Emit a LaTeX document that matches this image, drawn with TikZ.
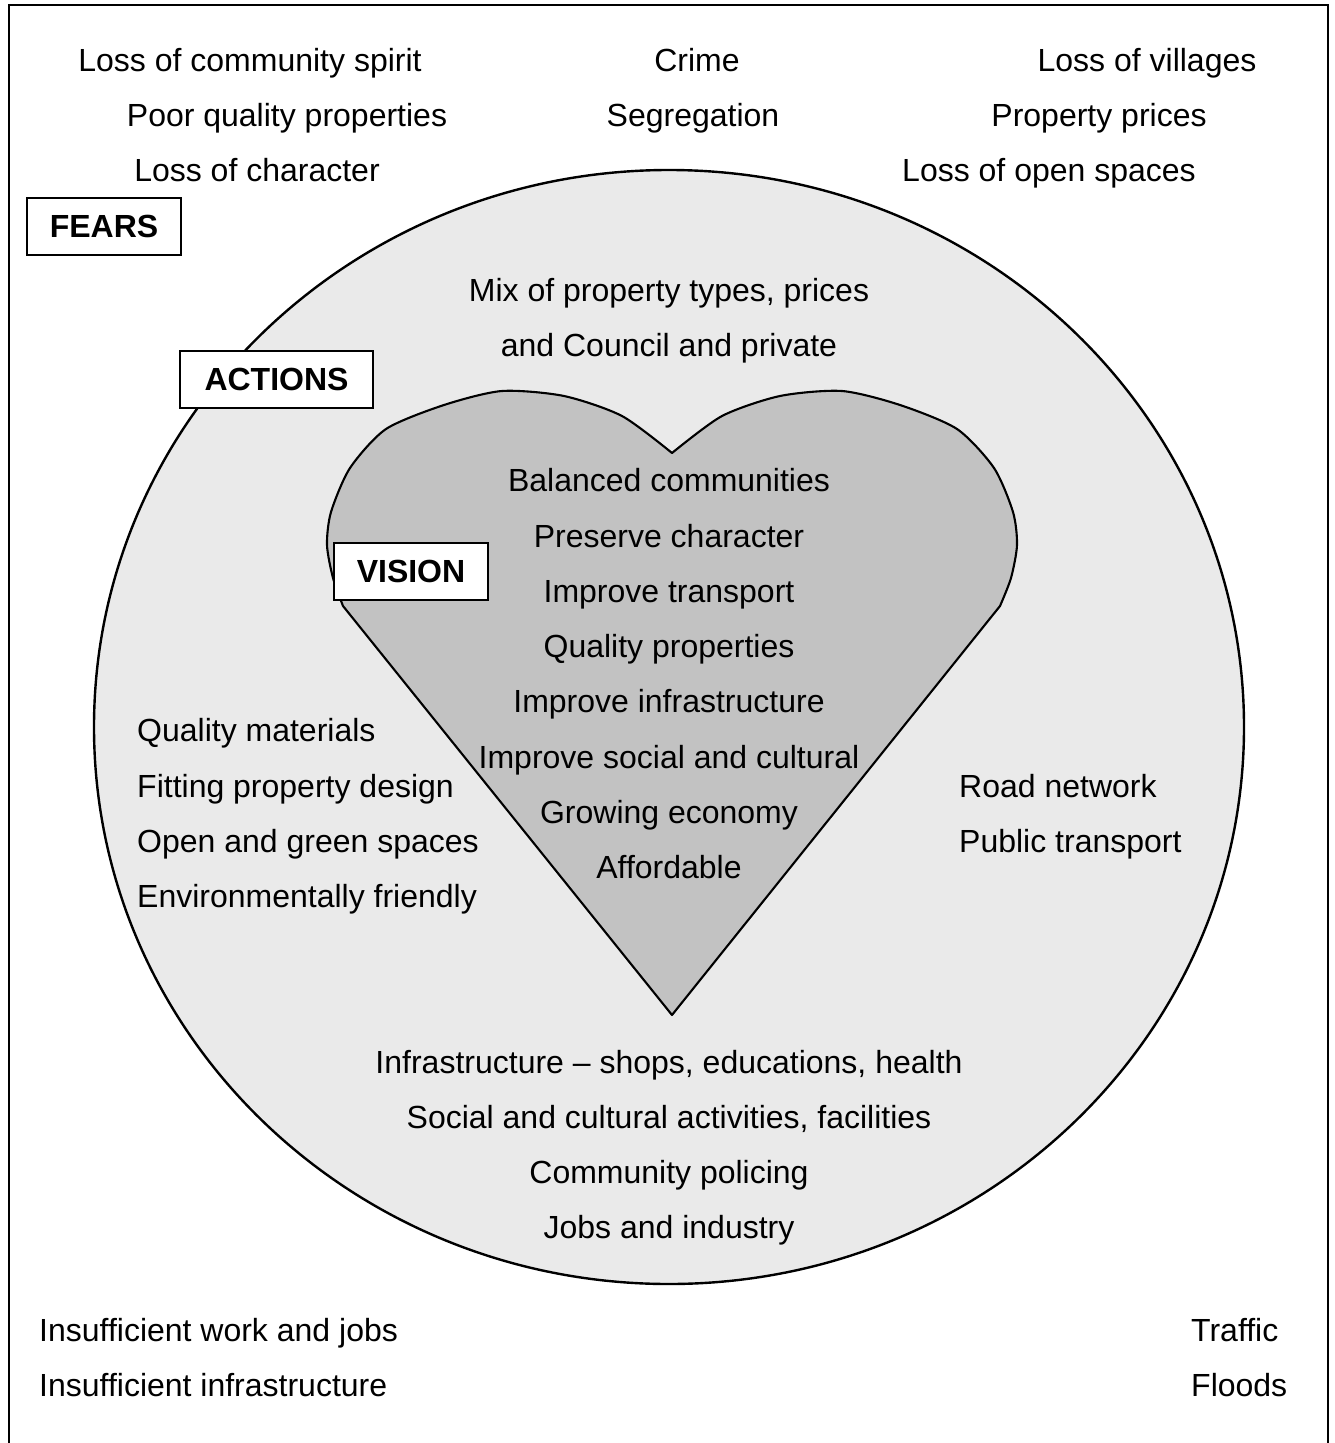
\documentclass[tikz,border=0pt]{standalone}
\usepackage{fontspec}
\setmainfont{Liberation Sans}
\usetikzlibrary{shapes.geometric}
\begin{document}
\begin{tikzpicture}[x=1pt,y=-1pt,
  txt/.style={font=\fontsize{32}{38}\selectfont, inner sep=0pt, anchor=base},
  ltxt/.style={txt, anchor=base west},
  lbl/.style={draw=black, line width=2pt, fill=white, inner sep=0pt,
    font=\fontsize{32}{38}\selectfont\bfseries},
  frame/.style={line width=2.8pt},
  circ/.style={draw=black, line width=2.4pt, fill={rgb,255:red,234;green,234;blue,234}},
  heartstyle/.style={draw=black, line width=2.1pt, fill={rgb,255:red,194;green,194;blue,194}, line join=round}]
\useasboundingbox (0,0) rectangle (1334,1443);
\begin{scope}
\clip (0,0) rectangle (1334,1443);
\coordinate (fbl) at (9,1460);
\coordinate (ftl) at (9,5);
\coordinate (ftr) at (1328,5);
\coordinate (fbr) at (1328,1460);
\draw[frame] (fbl) -- (ftl) -- (ftr) -- (fbr);
\end{scope}
% circle
\node[circ, ellipse, minimum width=1150pt, minimum height=1114pt, inner sep=0pt] (circle) at (669,727) {};
% heart
\path[heartstyle] (672,1015) -- (343,606)
  -- plot[smooth, tension=0.45] coordinates {(343,606) (333,578) (327,545) (331,512) (350,468) (386,429) (444,405) (502,391) (564,396) (622,416) (672,453)}
  -- plot[smooth, tension=0.45] coordinates {(672,453) (722,416) (780,396) (842,391) (900,405) (957,429) (994,468) (1013,512) (1017,545) (1011,578) (1000,606)}
  -- cycle;
% fears text
\node[txt] (f1) at (250,71) {Loss of community spirit};
\node[txt] (f2) at (287,126) {Poor quality properties};
\node[txt] (f3) at (257,181) {Loss of character};
\node[txt] (f4) at (697,71) {Crime};
\node[txt] (f5) at (693,126) {Segregation};
\node[txt] (f6) at (1147,71) {Loss of villages};
\node[txt] (f7) at (1099,126) {Property prices};
\node[txt] (f8) at (1049,181) {Loss of open spaces};
\node[ltxt] (f9) at (39,1341) {Insufficient work and jobs};
\node[ltxt] (f10) at (39,1396) {Insufficient infrastructure};
\node[ltxt] (f11) at (1191,1341) {Traffic};
\node[ltxt] (f12) at (1191,1396) {Floods};
% labels
\node[lbl, minimum width=154pt, minimum height=57pt] (fears) at (104,226.5) {FEARS};
\node[lbl, minimum width=193pt, minimum height=57pt] (actions) at (276.5,379.5) {ACTIONS};
\node[lbl, minimum width=154pt, minimum height=57pt] (vision) at (411,571.5) {VISION};
% actions text
\node[txt] (a1) at (669,301) {Mix of property types, prices};
\node[txt] (a2) at (669,356) {and Council and private};
\node[ltxt] (a3) at (137,741) {Quality materials};
\node[ltxt] (a4) at (137,797) {Fitting property design};
\node[ltxt] (a5) at (137,852) {Open and green spaces};
\node[ltxt] (a6) at (137,907) {Environmentally friendly};
\node[ltxt] (a7) at (959,797) {Road network};
\node[ltxt] (a8) at (959,852) {Public transport};
\node[txt] (a9) at (669,1073) {Infrastructure – shops, educations, health};
\node[txt] (a10) at (669,1128) {Social and cultural activities, facilities};
\node[txt] (a11) at (669,1183) {Community policing};
\node[txt] (a12) at (669,1238) {Jobs and industry};
% vision text
\node[txt] (v1) at (669,491) {Balanced communities};
\node[txt] (v2) at (669,547) {Preserve character};
\node[txt] (v3) at (669,602) {Improve transport};
\node[txt] (v4) at (669,657) {Quality properties};
\node[txt] (v5) at (669,712) {Improve infrastructure};
\node[txt] (v6) at (669,768) {Improve social and cultural};
\node[txt] (v7) at (669,823) {Growing economy};
\node[txt] (v8) at (669,878) {Affordable};
\end{tikzpicture}
\end{document}
